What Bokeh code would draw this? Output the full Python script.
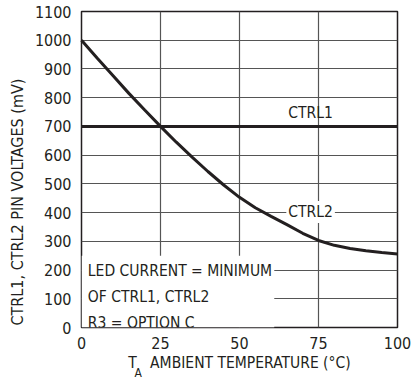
from bokeh.plotting import figure
from bokeh.models import Label, FixedTicker, Range1d, Title
from bokeh.embed import file_html
from bokeh.resources import INLINE

# data
temps = [0, 5, 10, 15, 20, 25, 30, 35, 40, 45, 50, 55, 60, 65, 70, 75, 80, 85, 90, 95, 100]
ctrl2_mv = [1000, 937, 876, 815, 757, 700, 645, 593, 543, 496, 453, 417, 387, 358, 328, 303, 286, 275, 267, 261, 256]
ctrl1_temps = [0, 100]
ctrl1_mv = [700, 700]
x_ticks = [0, 25, 50, 75, 100]
y_ticks = [0, 100, 200, 300, 400, 500, 600, 700, 800, 900, 1000, 1100]
note_lines = ["LED CURRENT = MINIMUM", "OF CTRL1, CTRL2", "R3 = OPTION C"]
note_box = dict(left=0, right=61, bottom=0, top=250)

FONT = "DejaVu Sans Condensed"
INK = "#231f20"
NB = "\u00a0"

p = figure(width=417, height=379, output_backend="svg", toolbar_location=None,
           x_range=Range1d(0, 100), y_range=Range1d(0, 1100),
           min_border_left=81, min_border_right=20, min_border_top=11, min_border_bottom=52)
p.background_fill_color = "white"
p.border_fill_color = "white"
p.outline_line_color = INK
p.outline_line_width = 1.5

for ax in (p.xaxis[0], p.yaxis[0]):
    ax.axis_line_color = None
    ax.major_tick_line_color = None
    ax.minor_tick_line_color = None
    ax.major_tick_out = 0
    ax.major_tick_in = 0
    ax.minor_tick_out = 0
    ax.minor_tick_in = 0
    ax.major_label_text_font = FONT
    ax.major_label_text_font_size = "16px"
    ax.major_label_text_color = INK
    ax.axis_label_text_font = FONT
    ax.axis_label_text_font_size = "15.5px"
    ax.axis_label_text_font_style = "normal"
    ax.axis_label_text_color = INK
p.xaxis.ticker = FixedTicker(ticks=x_ticks)
p.yaxis.ticker = FixedTicker(ticks=y_ticks)
p.xaxis.major_label_standoff = 9
p.yaxis.major_label_standoff = 10

p.xaxis.axis_label = "T" + NB * 3 + "AMBIENT TEMPERATURE (°C)"
p.xaxis.axis_label_standoff = 2

# y axis title, placed from the bottom of the frame
y_title = Title(text="CTRL1, CTRL2 PIN VOLTAGES (mV)", align="left", offset=2, standoff=10,
                text_font=FONT, text_font_size="16px", text_font_style="normal", text_color=INK)
p.add_layout(y_title, "left")

p.xgrid.ticker = FixedTicker(ticks=x_ticks)
p.ygrid.ticker = FixedTicker(ticks=y_ticks)
for g in (p.xgrid[0], p.ygrid[0]):
    g.grid_line_color = "#555555"
    g.grid_line_width = 1.2

# white note box hiding the grid
p.quad(**{k: [v] for k, v in note_box.items()}, fill_color="white", line_color=None)

p.line(ctrl1_temps, ctrl1_mv, line_color=INK, line_width=3)
p.line(temps, ctrl2_mv, line_color=INK, line_width=3, level="overlay")

p.add_layout(Label(x=72.5, y=748, text="CTRL1", text_align="center", text_baseline="middle",
                   text_font=FONT, text_font_size="15.5px", text_color=INK))
p.add_layout(Label(x=72.5, y=402, text="CTRL2", text_align="center", text_baseline="middle",
                   text_font=FONT, text_font_size="15.5px", text_color=INK,
                   background_fill_color="white", padding=2))

for i, t in enumerate(note_lines):
    p.add_layout(Label(x=2, y=197 - i * 91, text=t, text_align="left", text_baseline="middle",
                       text_font=FONT, text_font_size="15.5px", text_color=INK))

# subscript "A" of T_A
sub_t = Title(text="A", align="left", offset=53, vertical_align="top", text_font=FONT,
              text_font_size="12px", text_font_style="normal", text_color=INK, standoff=-18)
p.add_layout(sub_t, "below")
# invisible spacer that gives back the room the stacked titles take
spacer = Title(text=" ", text_font=FONT, text_font_size="12px", standoff=-26)
p.add_layout(spacer, "below")

open("out.html", "w").write(file_html(p, INLINE))
